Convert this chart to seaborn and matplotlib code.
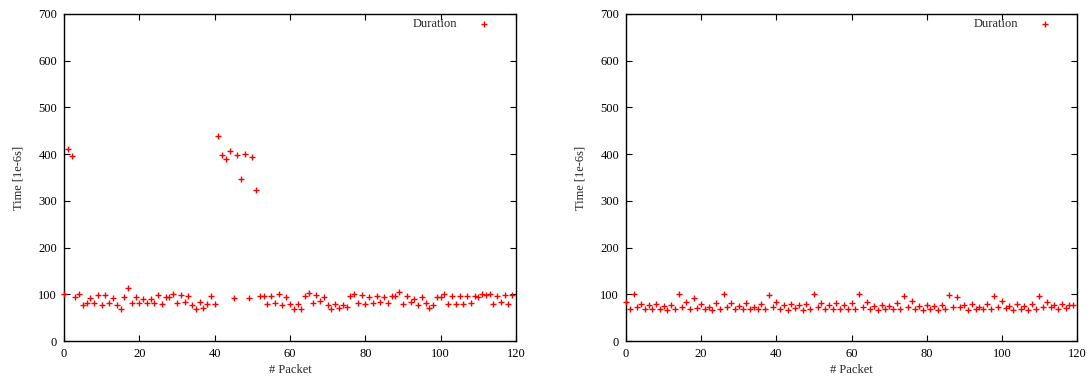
import numpy as np
import pandas as pd
import seaborn as sns
import matplotlib
matplotlib.use("Agg")
import matplotlib.pyplot as plt

# Packet index
packets = list(range(120))

# Duration per packet, first run (1e-6 s)
left_time = [101, 412, 397, 94, 100, 78, 81, 91, 82, 98,
             77, 98, 81, 93, 77, 68, 94, 114, 81, 94,
             81, 89, 82, 90, 82, 98, 79, 94, 94, 100,
             81, 98, 84, 96, 78, 68, 84, 71, 79, 96,
             80, 439, 398, 390, 406, 93, 398, 346, 400, 91,
             394, 324, 96, 97, 79, 96, 81, 100, 77, 95,
             80, 69, 80, 69, 97, 103, 81, 98, 86, 94,
             77, 68, 79, 70, 76, 73, 97, 101, 82, 99,
             79, 94, 82, 97, 83, 94, 81, 96, 96, 104,
             79, 96, 84, 89, 77, 94, 81, 70, 77, 94,
             94, 101, 79, 97, 79, 97, 79, 97, 81, 96,
             94, 101, 99, 101, 79, 96, 84, 98, 79, 99]

# Duration per packet, second run (1e-6 s)
right_time = [84, 69, 100, 72, 79, 69, 76, 68, 79, 68,
              75, 67, 78, 68, 100, 72, 83, 69, 92, 71,
              79, 68, 73, 66, 81, 69, 101, 73, 81, 69,
              75, 68, 81, 68, 72, 68, 79, 69, 99, 73,
              83, 68, 76, 67, 79, 70, 76, 67, 79, 68,
              101, 72, 81, 69, 76, 68, 81, 68, 77, 68,
              81, 68, 100, 72, 83, 69, 75, 66, 78, 69,
              75, 68, 81, 68, 97, 72, 86, 68, 75, 66,
              78, 68, 75, 67, 77, 68, 99, 72, 95, 72,
              78, 67, 80, 68, 72, 68, 80, 68, 97, 72,
              86, 70, 75, 67, 80, 68, 75, 67, 79, 68,
              97, 72, 84, 72, 76, 68, 79, 70, 76, 76]

x_ticks = [0, 20, 40, 60, 80, 100, 120]
y_ticks = [0, 100, 200, 300, 400, 500, 600, 700]

sns.set_style("ticks")
plt.rcParams['font.family'] = ['Liberation Serif', 'DejaVu Serif']

fig = plt.figure(figsize=(10.87, 3.76), dpi=100)
ax_left = fig.add_axes([64 / 1087, 35 / 376, 452 / 1087, 327 / 376])
ax_right = fig.add_axes([626 / 1087, 35 / 376, 451 / 1087, 327 / 376])

for ax, values in [(ax_left, left_time), (ax_right, right_time)]:
    df = pd.DataFrame({'packet': packets, 'time': values})
    sns.scatterplot(data=df, x='packet', y='time', marker='+', color='red',
                    s=24, linewidth=1.0, label='Duration', ax=ax, clip_on=False, zorder=3)
    ax.set_xlim(0, 120)
    ax.set_ylim(0, 700)
    ax.set_xticks(x_ticks)
    ax.set_yticks(y_ticks)
    ax.tick_params(direction='in', top=True, right=True, length=4, width=0.8,
                   labelsize=9, colors='black', pad=5)
    for sp in ax.spines.values():
        sp.set_linewidth(1.0)
        sp.set_color('black')
    ax.set_xlabel('# Packet', fontsize=9, labelpad=3)
    ax.set_ylabel('Time [1e-6s]', fontsize=9, labelpad=10)
    ax.legend(loc='upper right', bbox_to_anchor=(0.969, 1.015), frameon=False,
              markerfirst=False, fontsize=9, handletextpad=1.4, handlelength=1.5,
              borderaxespad=0.3)

fig.savefig('out.png', dpi=100)
